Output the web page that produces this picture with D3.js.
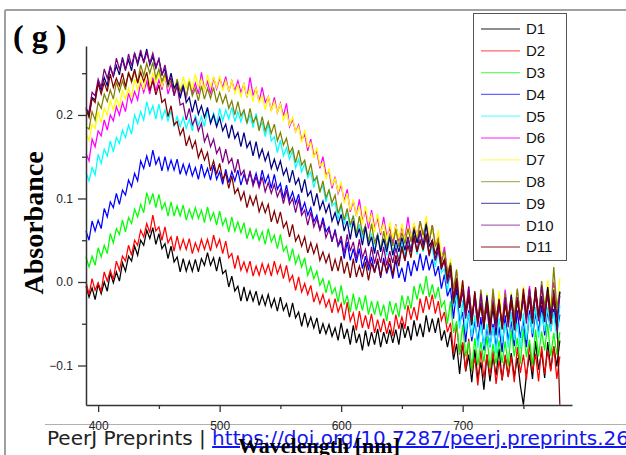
<!DOCTYPE html>
<html><head><meta charset="utf-8">
<script src="https://cdn.jsdelivr.net/npm/d3@7"></script>
<style>html,body{margin:0;padding:0;background:#fff;} svg{display:block;}</style>
</head><body>
<svg id="chart" width="626" height="455"></svg>
<script>
// ---------- data (absorbance, every 2.5 nm) ----------
const wavelengths = [390,392.5,395,397.5,400,402.5,405,407.5,410,412.5,
415,417.5,420,422.5,425,427.5,430,432.5,435,437.5,
440,442.5,445,447.5,450,452.5,455,457.5,460,462.5,
465,467.5,470,472.5,475,477.5,480,482.5,485,487.5,
490,492.5,495,497.5,500,502.5,505,507.5,510,512.5,
515,517.5,520,522.5,525,527.5,530,532.5,535,537.5,
540,542.5,545,547.5,550,552.5,555,557.5,560,562.5,
565,567.5,570,572.5,575,577.5,580,582.5,585,587.5,
590,592.5,595,597.5,600,602.5,605,607.5,610,612.5,
615,617.5,620,622.5,625,627.5,630,632.5,635,637.5,
640,642.5,645,647.5,650,652.5,655,657.5,660,662.5,
665,667.5,670,672.5,675,677.5,680,682.5,685,687.5,
690,692.5,695,697.5,700,702.5,705,707.5,710,712.5,
715,717.5,720,722.5,725,727.5,730,732.5,735,737.5,
740,742.5,745,747.5,750,752.5,755,757.5,760,762.5,
765,767.5,770,772.5,775,777.5,780];
const seriesNames = ["D1","D2","D3","D4","D5","D6","D7","D8","D9","D10","D11"];
const D1 = [-.005,-.018,-.007,-.021,-.003,-.014,0,-.011,.011,-.001,
.012,.001,.023,.013,.031,.025,.043,.032,.050,.044,
.062,.052,.065,.045,.058,.040,.046,.028,.043,.024,
.030,.012,.028,.013,.025,.013,.027,.012,.028,.020,
.035,.020,.029,.013,.030,.010,.014,-.006,.007,-.011,
-.005,-.023,-.006,-.023,-.011,-.023,-.011,-.028,-.016,-.028,
-.015,-.030,-.020,-.035,-.018,-.034,-.026,-.042,-.025,-.043,
-.036,-.053,-.037,-.053,-.042,-.055,-.043,-.062,-.050,-.062,
-.051,-.065,-.055,-.070,-.049,-.068,-.056,-.075,-.052,-.073,
-.062,-.082,-.058,-.077,-.060,-.075,-.056,-.078,-.060,-.074,
-.057,-.073,-.057,-.075,-.049,-.067,-.053,-.070,-.046,-.065,
-.050,-.066,-.040,-.060,-.044,-.061,-.043,-.070,-.058,-.078,
-.060,-.093,-.074,-.110,-.073,-.107,-.087,-.120,-.081,-.116,
-.096,-.129,-.087,-.119,-.089,-.112,-.080,-.118,-.089,-.113,
-.085,-.114,-.091,-.124,-.147,-.111,-.087,-.116,-.071,-.105,
-.083,-.115,-.072,-.105,-.077,-.101,-.070];
const D2 = [0,-.015,.004,-.010,-.001,-.011,.012,.001,.014,.003,
.025,.014,.031,.025,.044,.032,.050,.044,.062,.054,
.070,.059,.080,.061,.066,.050,.066,.047,.054,.037,
.055,.039,.051,.039,.052,.034,.047,.037,.051,.039,
.051,.037,.056,.042,.051,.034,.049,.029,.034,.016,
.032,.014,.024,.012,.025,.007,.019,.008,.022,.010,
.021,.007,.025,.010,.020,.004,.020,.001,.008,-.010,
.006,-.012,-.002,-.015,-.004,-.024,-.013,-.026,-.015,-.030,
-.021,-.037,-.020,-.036,-.026,-.046,-.024,-.047,-.037,-.058,
-.035,-.055,-.040,-.056,-.038,-.061,-.045,-.060,-.044,-.062,
-.047,-.065,-.039,-.056,-.042,-.056,-.028,-.045,-.030,-.046,
-.020,-.037,-.017,-.033,-.015,-.038,-.023,-.046,-.036,-.060,
-.049,-.086,-.050,-.087,-.072,-.106,-.068,-.107,-.091,-.124,
-.082,-.115,-.087,-.112,-.082,-.122,-.094,-.117,-.087,-.114,
-.089,-.120,-.078,-.109,-.087,-.117,-.074,-.107,-.086,-.119,
-.077,-.110,-.082,-.107,-.077,-.116,-.089];
const D3 = [.030,.018,.031,.020,.041,.030,.044,.034,.058,.047,
.064,.057,.074,.060,.077,.070,.087,.078,.093,.083,
.107,.094,.106,.089,.105,.087,.095,.079,.096,.079,
.091,.079,.092,.074,.087,.076,.089,.076,.086,.071,
.090,.074,.083,.068,.085,.068,.076,.060,.078,.061,
.072,.059,.071,.052,.064,.052,.063,.050,.060,.045,
.064,.048,.056,.040,.057,.037,.043,.025,.040,.022,
.032,.018,.029,.008,.018,.004,.013,-.004,.004,-.013,
.002,-.014,-.007,-.024,-.004,-.027,-.016,-.036,-.014,-.034,
-.018,-.034,-.016,-.039,-.023,-.039,-.023,-.041,-.027,-.047,
-.023,-.039,-.025,-.042,-.016,-.033,-.017,-.032,-.005,-.021,
-.002,-.015,.007,-.018,-.003,-.020,-.006,-.030,-.023,-.050,
-.023,-.061,-.047,-.086,-.051,-.089,-.071,-.106,-.067,-.100,
-.072,-.096,-.065,-.103,-.074,-.098,-.070,-.097,-.071,-.101,
-.058,-.089,-.067,-.098,-.056,-.090,-.069,-.100,-.057,-.089,
-.059,-.082,-.050,-.089,-.061,-.087,-.060];
const D4 = [.061,.050,.073,.061,.074,.064,.088,.078,.096,.089,
.106,.093,.110,.104,.122,.114,.130,.121,.145,.136,
.151,.138,.158,.141,.149,.133,.150,.134,.146,.134,
.147,.129,.141,.129,.141,.127,.137,.123,.141,.126,
.136,.122,.140,.123,.132,.117,.135,.119,.132,.121,
.134,.116,.129,.118,.131,.118,.130,.115,.134,.119,
.128,.112,.129,.111,.118,.100,.116,.098,.108,.094,
.105,.085,.095,.080,.089,.072,.080,.062,.077,.060,
.066,.048,.063,.043,.050,.028,.048,.026,.040,.023,
.040,.016,.031,.014,.030,.012,.025,.005,.029,.010,
.022,.004,.027,.005,.017,0,.025,.007,.026,.013,
.034,.014,.032,.014,.027,.007,.019,-.008,.009,-.017,
-.007,-.044,-.008,-.049,-.036,-.072,-.034,-.071,-.047,-.072,
-.042,-.082,-.054,-.078,-.050,-.078,-.054,-.084,-.040,-.070,
-.047,-.077,-.034,-.067,-.046,-.078,-.034,-.066,-.037,-.060,
-.028,-.064,-.034,-.059,-.032,-.061,-.039];
const D5 = [.131,.121,.137,.128,.153,.142,.159,.151,.169,.156,
.173,.166,.182,.173,.188,.177,.200,.190,.204,.194,
.216,.201,.211,.195,.213,.195,.206,.193,.205,.186,
.198,.186,.197,.184,.195,.181,.200,.187,.198,.186,
.206,.191,.202,.188,.208,.193,.206,.195,.209,.192,
.204,.192,.205,.190,.200,.185,.202,.184,.191,.174,
.189,.169,.174,.155,.170,.151,.161,.147,.157,.137,
.147,.132,.142,.125,.132,.113,.128,.110,.115,.096,
.111,.091,.095,.075,.092,.069,.083,.065,.080,.055,
.069,.051,.065,.046,.058,.036,.059,.039,.051,.032,
.054,.033,.044,.024,.048,.030,.048,.034,.054,.033,
.051,.036,.054,.032,.042,.018,.038,.011,.016,-.011,
.014,-.029,-.016,-.056,-.022,-.060,-.037,-.066,-.040,-.079,
-.051,-.077,-.050,-.078,-.054,-.085,-.043,-.073,-.049,-.079,
-.036,-.070,-.049,-.080,-.037,-.069,-.039,-.062,-.030,-.067,
-.037,-.059,-.030,-.059,-.036,-.068,-.028];
const D6 = [.154,.145,.171,.162,.181,.175,.194,.182,.200,.193,
.210,.200,.215,.204,.226,.215,.228,.218,.240,.227,
.240,.225,.245,.229,.242,.230,.249,.225,.237,.225,
.237,.223,.233,.220,.240,.227,.238,.225,.251,.230,
.240,.225,.245,.231,.244,.233,.246,.228,.241,.229,
.241,.227,.237,.221,.245,.224,.232,.216,.233,.215,
.222,.205,.221,.203,.214,.199,.214,.186,.195,.180,
.188,.170,.177,.157,.171,.152,.156,.136,.150,.129,
.132,.112,.126,.106,.116,.097,.111,.084,.097,.079,
.099,.073,.085,.064,.086,.065,.076,.056,.078,.055,
.065,.046,.069,.049,.066,.052,.078,.051,.069,.055,
.073,.056,.072,.048,.068,.045,.053,.026,.042,.012,
.019,-.022,.013,-.027,-.007,-.033,-.005,-.046,-.019,-.045,
-.018,-.047,-.024,-.055,-.013,-.044,-.022,-.052,-.009,-.043,
-.021,-.053,-.010,-.041,-.012,-.036,-.005,-.043,-.014,-.037,
-.007,-.034,-.009,-.041,0,-.033,-.012];
const D7 = [.178,.169,.189,.184,.204,.191,.208,.200,.217,.206,
.220,.209,.230,.219,.232,.221,.243,.230,.242,.230,
.252,.237,.250,.238,.251,.233,.245,.233,.245,.232,
.242,.227,.246,.232,.243,.230,.249,.233,.243,.229,
.248,.233,.245,.233,.247,.229,.241,.229,.241,.226,
.236,.221,.238,.222,.231,.216,.233,.215,.223,.206,
.223,.205,.216,.203,.214,.194,.203,.188,.197,.180,
.186,.167,.182,.162,.167,.148,.161,.139,.143,.123,
.136,.116,.124,.108,.120,.094,.106,.086,.099,.079,
.091,.069,.091,.071,.081,.060,.082,.059,.070,.050,
.072,.052,.068,.052,.070,.049,.067,.053,.071,.055,
.071,.053,.079,.057,.065,.042,.062,.031,.034,.006,
.028,-.012,.009,-.022,.002,-.039,-.013,-.040,-.015,-.045,
-.022,-.054,-.013,-.044,-.022,-.053,-.011,-.045,-.024,-.056,
-.012,-.044,-.015,-.037,-.005,-.043,-.014,-.038,-.010,-.037,
-.011,-.041,.002,-.029,-.007,-.038,.004];
const D8 = [.186,.183,.204,.194,.215,.208,.225,.216,.230,.219,
.240,.228,.241,.230,.252,.239,.252,.239,.260,.247,
.262,.250,.263,.244,.255,.240,.250,.234,.241,.225,
.243,.228,.236,.222,.240,.223,.232,.217,.235,.219,
.232,.220,.233,.215,.227,.214,.224,.208,.217,.200,
.216,.199,.206,.190,.208,.191,.198,.181,.198,.181,
.192,.178,.189,.169,.179,.164,.172,.154,.161,.143,
.158,.140,.146,.128,.142,.121,.126,.107,.121,.101,
.110,.095,.104,.082,.093,.074,.088,.068,.079,.057,
.079,.058,.068,.048,.070,.047,.057,.038,.061,.041,
.058,.043,.063,.042,.059,.046,.064,.048,.065,.047,
.073,.056,.070,.048,.068,.043,.050,.022,.038,.010,
.023,-.009,.015,-.030,-.009,-.035,-.010,-.041,-.019,-.050,
-.009,-.041,-.019,-.050,-.008,-.043,-.023,-.056,-.013,-.045,
-.017,-.040,-.008,-.044,-.014,-.037,-.009,-.036,-.011,-.042,
.001,-.029,-.007,-.038,.018,-.031,-.011];
const D9 = [.209,.200,.221,.218,.239,.230,.245,.235,.258,.246,
.259,.248,.269,.255,.266,.253,.274,.260,.274,.264,
.279,.260,.270,.256,.267,.249,.255,.236,.250,.232,
.238,.220,.235,.215,.221,.203,.218,.201,.211,.197,
.209,.190,.200,.186,.197,.181,.189,.172,.188,.172,
.179,.162,.179,.161,.168,.151,.168,.149,.159,.145,
.155,.136,.147,.134,.145,.128,.136,.119,.134,.117,
.124,.107,.123,.103,.109,.091,.106,.087,.097,.083,
.093,.073,.083,.069,.081,.061,.073,.051,.073,.053,
.064,.044,.066,.043,.054,.034,.056,.036,.052,.036,
.054,.032,.050,.036,.053,.038,.054,.036,.063,.047,
.061,.044,.069,.043,.050,.026,.045,.017,.026,.002,
.020,-.024,-.001,-.031,-.010,-.041,-.019,-.052,-.013,-.045,
-.025,-.057,-.016,-.051,-.031,-.064,-.022,-.054,-.025,-.047,
-.015,-.052,-.022,-.045,-.015,-.043,-.019,-.050,-.008,-.039,
-.017,-.048,-.006,-.041,-.021,-.054,-.012];
const D10 = [.205,.204,.227,.223,.243,.233,.255,.244,.258,.246,
.268,.255,.266,.253,.273,.259,.274,.263,.278,.262,
.275,.262,.274,.258,.267,.247,.260,.240,.244,.223,
.235,.212,.214,.194,.208,.188,.196,.181,.190,.168,
.177,.162,.171,.154,.161,.143,.159,.142,.148,.131,
.147,.128,.134,.117,.133,.115,.126,.113,.126,.108,
.119,.106,.117,.102,.111,.094,.110,.093,.100,.083,
.099,.080,.086,.068,.084,.066,.076,.062,.073,.053,
.063,.050,.060,.044,.055,.034,.057,.037,.048,.028,
.051,.029,.039,.019,.042,.022,.038,.023,.042,.020,
.037,.023,.041,.025,.041,.025,.053,.037,.053,.036,
.062,.042,.055,.031,.050,.026,.038,.015,.027,-.002,
.011,-.018,.005,-.028,-.009,-.044,-.006,-.041,-.022,-.054,
-.014,-.050,-.031,-.064,-.022,-.055,-.027,-.050,-.018,-.054,
-.024,-.047,-.018,-.045,-.019,-.050,-.008,-.039,-.017,-.047,
-.004,-.037,-.016,-.050,-.009,-.043,-.017];
const D11 = [.207,.197,.220,.215,.238,.225,.239,.228,.249,.233,
.244,.235,.250,.234,.250,.241,.255,.238,.251,.240,
.251,.229,.241,.224,.236,.215,.219,.198,.211,.188,
.192,.176,.184,.163,.174,.160,.169,.149,.159,.146,
.155,.133,.145,.129,.142,.123,.130,.112,.127,.106,
.112,.098,.108,.089,.103,.092,.103,.084,.095,.083,
.093,.072,.085,.070,.084,.065,.072,.054,.069,.049,
.056,.043,.054,.035,.047,.034,.045,.026,.036,.023,
.033,.013,.027,.013,.031,.010,.024,.005,.028,.006,
.019,.006,.024,.002,.023,.011,.028,.007,.025,.012,
.029,.008,.032,.019,.043,.026,.044,.029,.056,.036,
.050,.038,.058,.033,.050,.033,.047,.018,.027,.005,
.020,-.026,.003,-.029,.002,-.035,-.015,-.050,-.011,-.049,
-.029,-.052,-.022,-.060,-.027,-.049,-.020,-.057,-.027,-.047,
-.020,-.058,-.022,-.047,-.008,-.041,-.017,-.048,-.006,-.043,
-.021,-.043,-.012,-.050,-.017,-.039,-.147];
const seriesValues = [D1,D2,D3,D4,D5,D6,D7,D8,D9,D10,D11];
const yMajorTicks = [-0.1, 0.0, 0.1, 0.2];
const yTickLabels = ["\u22120.1", "0.0", "0.1", "0.2"];
const yMinorTicks = [-0.05, 0.05, 0.15, 0.25];
const xMajorTicks = [400, 500, 600, 700];
const xMinorTicks = [450, 550, 650, 750];
const panelLabel = "( g )";
const xTitle = "Wavelength [nm]";
const yTitle = "Absorbance";
const footerText = "PeerJ Preprints | ";
const footerLink = "https://doi.org/10.7287/peerj.preprints.26";

// ---------- style ----------
const colors = ["#000000","#ff0000","#00ff00","#0000ff","#00ffff","#ff00ff","#ffff00","#808000","#000080","#800080","#800000"];
const sans = "'Liberation Sans', Arial, sans-serif";
const serif = "'Liberation Serif', 'Times New Roman', serif";

const svg = d3.select("#chart");
svg.append("rect").attr("width",626).attr("height",455).attr("fill","#fff");

// page frame
svg.append("line").attr("x1",5).attr("x2",626).attr("y1",10).attr("y2",10).attr("stroke","#a0a0a0").attr("stroke-width",2);
svg.append("line").attr("x1",5).attr("x2",5).attr("y1",10).attr("y2",455).attr("stroke","#a0a0a0").attr("stroke-width",2);
svg.append("line").attr("x1",45).attr("x2",626).attr("y1",424.5).attr("y2",424.5).attr("stroke","#b0b0b0").attr("stroke-width",1);

const x = d3.scaleLinear().domain([390, 790]).range([86, 572]);
const y = d3.scaleLinear().domain([-0.1473, 0.2826]).range([405, 46]);

// data lines
const line = d3.line().defined((d,i)=>i < wavelengths.length && d != null)
  .x((d,i)=>x(wavelengths[i])).y(d=>y(d));
const gData = svg.append("g");
seriesValues.forEach((vals,k)=>{
  gData.append("path").datum(vals).attr("d",line)
    .attr("fill","none").attr("stroke",colors[k]).attr("stroke-width",1.25)
    .attr("stroke-linejoin","miter");
});

// axes
function styleAxis(g){
  g.select(".domain").attr("stroke","#333").attr("stroke-width",1.5);
  g.selectAll(".tick line").attr("stroke","#333").attr("stroke-width",1.3);
  g.selectAll("text").attr("fill","#222").style("font-family",sans).style("font-size","12px");
}
const yAxis = svg.append("g").attr("transform","translate(86,0)")
  .call(d3.axisLeft(y).tickValues(yMajorTicks).tickSize(8).tickSizeOuter(0).tickPadding(5)
    .tickFormat((d,i)=>yTickLabels[i]));
styleAxis(yAxis);
const yMinor = svg.append("g").attr("transform","translate(86,0)")
  .call(d3.axisLeft(y).tickValues(yMinorTicks).tickSize(4).tickSizeOuter(0).tickFormat(""));
yMinor.select(".domain").remove();
styleAxis(yMinor);

const xAxis = svg.append("g").attr("transform","translate(0,405)")
  .call(d3.axisBottom(x).tickValues(xMajorTicks).tickSize(7).tickSizeOuter(0).tickPadding(9)
    .tickFormat(d3.format("d")));
styleAxis(xAxis);
const xMinor = svg.append("g").attr("transform","translate(0,405)")
  .call(d3.axisBottom(x).tickValues(xMinorTicks).tickSize(4).tickSizeOuter(0).tickFormat(""));
xMinor.select(".domain").remove();
styleAxis(xMinor);

// legend
const lg = svg.append("g");
lg.append("rect").attr("x",473.5).attr("y",13.5).attr("width",93).attr("height",247)
  .attr("fill","#fff").attr("stroke","#555").attr("stroke-width",1);
seriesNames.forEach((name,k)=>{
  const ly = 29 + k*21.8;
  lg.append("line").attr("x1",481).attr("x2",520).attr("y1",ly).attr("y2",ly)
    .attr("stroke",colors[k]).attr("stroke-width",1.3).attr("stroke-opacity",0.6);
  lg.append("text").attr("x",526).attr("y",ly).attr("dy","0.36em").text(name)
    .attr("fill","#111").style("font-family",sans).style("font-size","15px");
});

// panel label
svg.append("text").attr("x",13).attr("y",47).text(panelLabel)
  .attr("fill","#000").style("font-family",serif).style("font-weight","bold").style("font-size","32px");

// y title
svg.append("text").attr("transform","translate(43,223) rotate(-90)").attr("text-anchor","middle")
  .text(yTitle).attr("fill","#000").style("font-family",serif).style("font-weight","bold").style("font-size","28px");

// footer
const ft = svg.append("text").attr("x",47).attr("y",445)
  .style("font-family","'DejaVu Sans', sans-serif").style("font-size","20px");
ft.append("tspan").attr("fill","#222").text(footerText);
ft.append("tspan").attr("fill","#1515ee").style("text-decoration","underline").text(footerLink);

// x title (drawn over footer as in reference)
svg.append("text").attr("x",319).attr("y",453).attr("text-anchor","middle")
  .text(xTitle).attr("fill","#000").style("font-family",serif).style("font-weight","bold").style("font-size","22px");
</script>
</body></html>
